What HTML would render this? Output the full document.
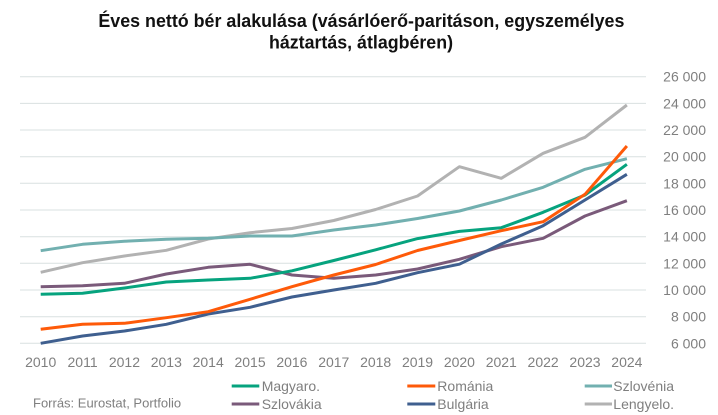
<!DOCTYPE html>
<html>
<head>
<meta charset="utf-8">
<style>
  html,body{margin:0;padding:0;background:#fff;}
  svg{display:block;}
  text{font-family:"Liberation Sans",Arial,sans-serif;}
</style>
</head>
<body>
<svg width="718" height="415" viewBox="0 0 718 415" xmlns="http://www.w3.org/2000/svg">
  <rect width="718" height="415" fill="#fff"/>
  <!-- Title -->
  <text x="98.4" y="27" font-size="18" font-weight="bold" fill="#111" textLength="526" lengthAdjust="spacingAndGlyphs">Éves nettó bér alakulása (vásárlóerő-paritáson, egyszemélyes</text>
  <text x="269" y="48.7" font-size="18" font-weight="bold" fill="#111" textLength="184" lengthAdjust="spacingAndGlyphs">háztartás, átlagbéren)</text>

  <!-- Gridlines -->
  <g stroke="#d9e0e0" stroke-width="1">
    <line x1="20" x2="646" y1="76.7" y2="76.7"/>
    <line x1="20" x2="646" y1="103.4" y2="103.4"/>
    <line x1="20" x2="646" y1="130" y2="130"/>
    <line x1="20" x2="646" y1="156.7" y2="156.7"/>
    <line x1="20" x2="646" y1="183.3" y2="183.3"/>
    <line x1="20" x2="646" y1="210" y2="210"/>
    <line x1="20" x2="646" y1="236.7" y2="236.7"/>
    <line x1="20" x2="646" y1="263.3" y2="263.3"/>
    <line x1="20" x2="646" y1="290" y2="290"/>
    <line x1="20" x2="646" y1="316.7" y2="316.7"/>
    <line x1="20" x2="646" y1="343.3" y2="343.3"/>
  </g>

  <!-- Y labels -->
  <g font-size="14" fill="#7f7f7f" text-anchor="end">
    <text x="706" y="81.7">26 000</text>
    <text x="706" y="108.4">24 000</text>
    <text x="706" y="135">22 000</text>
    <text x="706" y="161.7">20 000</text>
    <text x="706" y="188.3">18 000</text>
    <text x="706" y="215">16 000</text>
    <text x="706" y="241.7">14 000</text>
    <text x="706" y="268.3">12 000</text>
    <text x="706" y="295">10 000</text>
    <text x="706" y="321.7">8 000</text>
    <text x="706" y="348.3">6 000</text>
  </g>

  <!-- X labels -->
  <g font-size="14" fill="#7f7f7f" text-anchor="middle">
    <text x="40.7" y="367">2010</text>
    <text x="82.57" y="367">2011</text>
    <text x="124.44" y="367">2012</text>
    <text x="166.31" y="367">2013</text>
    <text x="208.18" y="367">2014</text>
    <text x="250.05" y="367">2015</text>
    <text x="291.92" y="367">2016</text>
    <text x="333.79" y="367">2017</text>
    <text x="375.66" y="367">2018</text>
    <text x="417.53" y="367">2019</text>
    <text x="459.4" y="367">2020</text>
    <text x="501.27" y="367">2021</text>
    <text x="543.14" y="367">2022</text>
    <text x="585.01" y="367">2023</text>
    <text x="626.88" y="367">2024</text>
  </g>

  <!-- Series -->
  <g fill="none" stroke-width="3" stroke-linejoin="round" stroke-linecap="butt">
    <!-- Lengyelo -->
    <polyline stroke="#b2b2b2" points="40.7,272.3 82.57,262.7 124.44,256 166.31,250.3 208.18,239 250.05,232.7 291.92,228.5 333.79,220.5 375.66,209.5 417.53,196 459.4,166.7 501.27,178.3 543.14,153.3 585.01,137.3 626.88,105"/>
    <!-- Szlovénia -->
    <polyline stroke="#72b0b0" points="40.7,250.7 82.57,244.3 124.44,241.3 166.31,239.3 208.18,238.3 250.05,236 291.92,236 333.79,230 375.66,225 417.53,218.5 459.4,211 501.27,200 543.14,187.3 585.01,169.3 626.88,158.7"/>
    <!-- Szlovákia -->
    <polyline stroke="#7a5a7a" points="40.7,286.7 82.57,285.7 124.44,283.3 166.31,274 208.18,267.3 250.05,264.3 291.92,275 333.79,278.3 375.66,275 417.53,269 459.4,259.3 501.27,246.7 543.14,238.3 585.01,216 626.88,200.7"/>
    <!-- Bulgária -->
    <polyline stroke="#3f5f8f" points="40.7,343.3 82.57,336 124.44,331 166.31,324.3 208.18,314 250.05,307.3 291.92,297 333.79,290 375.66,283.3 417.53,272.7 459.4,264.2 501.27,244 543.14,225.7 585.01,200 626.88,174.3"/>
    <!-- Magyaro -->
    <polyline stroke="#06a37e" points="40.7,294.3 82.57,293.3 124.44,288 166.31,282 208.18,280 250.05,278.3 291.92,270.8 333.79,260.5 375.66,249.8 417.53,238.6 459.4,231.4 501.27,227.7 543.14,212.3 585.01,195 626.88,164.3"/>
    <!-- Románia -->
    <polyline stroke="#fe5a09" points="40.7,329.3 82.57,324.3 124.44,323.3 166.31,317.7 208.18,311.7 250.05,299.3 291.92,286.7 333.79,275 375.66,264.5 417.53,250.5 459.4,240.5 501.27,230.7 543.14,221.7 585.01,194.3 626.88,146"/>
  </g>

  <!-- Source -->
  <text x="33" y="407.5" font-size="13" fill="#7f7f7f">Forrás: Eurostat, Portfolio</text>

  <!-- Legend -->
  <g stroke-width="3">
    <line x1="231.7" x2="259.3" y1="386" y2="386" stroke="#06a37e"/>
    <line x1="231.7" x2="259.3" y1="404" y2="404" stroke="#7a5a7a"/>
    <line x1="407.3" x2="435.3" y1="386" y2="386" stroke="#fe5a09"/>
    <line x1="407.3" x2="435.3" y1="404" y2="404" stroke="#3f5f8f"/>
    <line x1="584.7" x2="612" y1="386" y2="386" stroke="#72b0b0"/>
    <line x1="584.7" x2="612" y1="404" y2="404" stroke="#b2b2b2"/>
  </g>
  <g font-size="14" fill="#7f7f7f">
    <text x="261.7" y="391">Magyaro.</text>
    <text x="261.7" y="409">Szlovákia</text>
    <text x="437.3" y="391">Románia</text>
    <text x="437.3" y="409">Bulgária</text>
    <text x="613.3" y="391">Szlovénia</text>
    <text x="613.3" y="409">Lengyelo.</text>
  </g>
</svg>
</body>
</html>
